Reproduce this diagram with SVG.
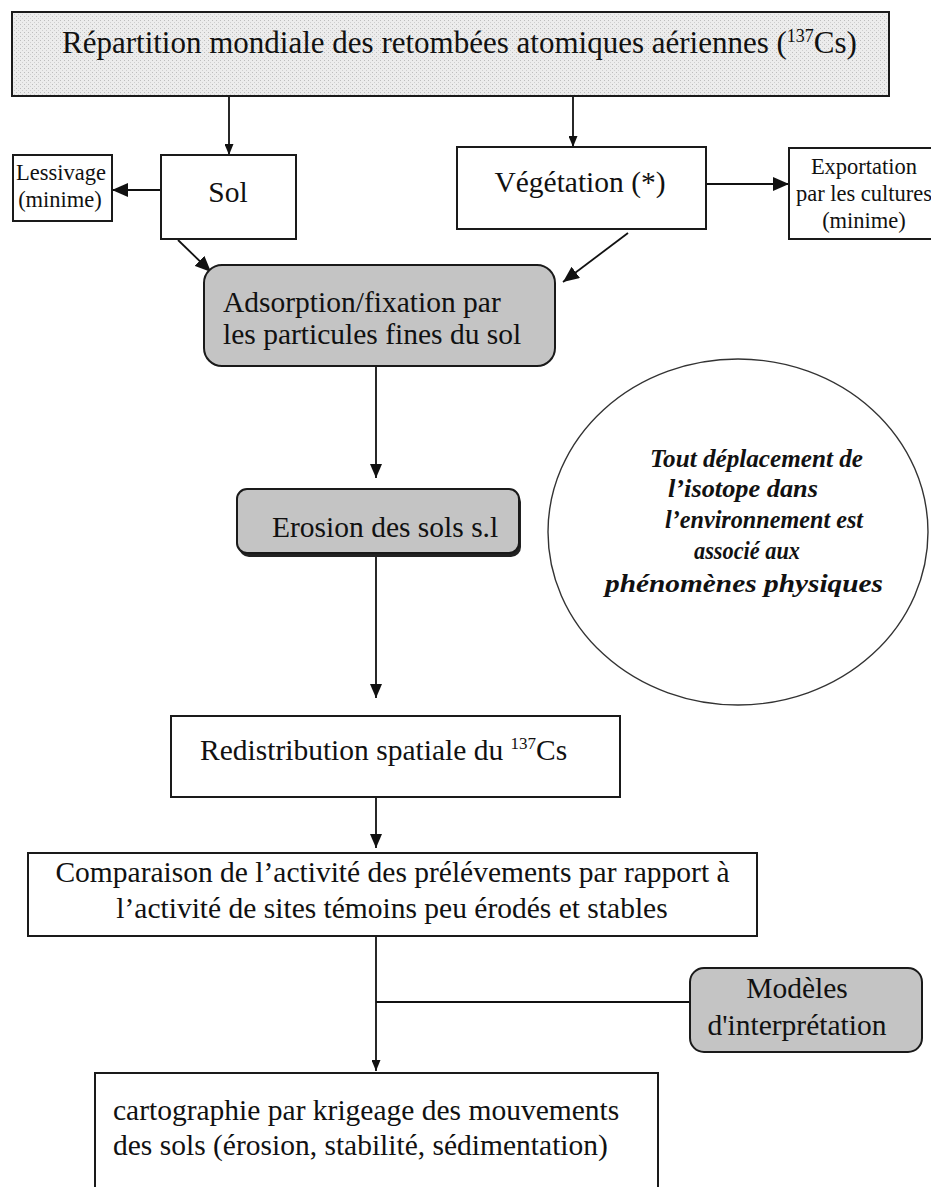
<svg xmlns="http://www.w3.org/2000/svg" width="931" height="1187" viewBox="0 0 931 1187">
<defs>
<style>
.box{fill:#ffffff;stroke:#1a1a1a;stroke-width:2}
.gray{fill:#c4c4c4;stroke:#1a1a1a;stroke-width:2}
.t{font-family:"Liberation Serif","Times New Roman",serif;fill:#111;font-size:29.5px}
.s{font-family:"Liberation Serif","Times New Roman",serif;fill:#111;font-size:22.5px}
.it{font-family:"Liberation Serif","Times New Roman",serif;fill:#111;font-size:26px;font-style:italic;font-weight:bold}
.ln{stroke:#111;stroke-width:1.8;fill:none}
</style>
<pattern id="dots" width="4" height="4" patternUnits="userSpaceOnUse">
<rect width="4" height="4" fill="#ececec"/>
<rect x="0" y="0" width="1" height="1" fill="#bdbdbd"/>
<rect x="2" y="2" width="1" height="1" fill="#cfcfcf"/>
</pattern>
<marker id="big" viewBox="0 0 16 14" markerWidth="16" markerHeight="14" refX="16" refY="7" orient="auto" markerUnits="userSpaceOnUse">
<path d="M0,0 L16,7 L0,14 z" fill="#111"/>
</marker>
<marker id="med" viewBox="0 0 14 12" markerWidth="14" markerHeight="12" refX="14" refY="6" orient="auto" markerUnits="userSpaceOnUse">
<path d="M0,0 L14,6 L0,12 z" fill="#111"/>
</marker>
<marker id="sm" viewBox="0 0 11 9" markerWidth="11" markerHeight="9" refX="11" refY="4.5" orient="auto" markerUnits="userSpaceOnUse">
<path d="M0,0 L11,4.5 L0,9 z" fill="#111"/>
</marker>
</defs>
<rect width="931" height="1187" fill="#ffffff"/>

<g id="connectors">
<line class="ln" x1="229" y1="96" x2="229" y2="155" marker-end="url(#sm)"/>
<line class="ln" x1="573" y1="96" x2="573" y2="147" marker-end="url(#sm)"/>
<line class="ln" x1="161" y1="190" x2="112" y2="190" marker-end="url(#big)"/>
<line class="ln" x1="706" y1="184" x2="789" y2="184" marker-end="url(#big)"/>
<line class="ln" x1="178" y1="240" x2="211" y2="272" marker-end="url(#big)"/>
<line class="ln" x1="628" y1="233" x2="563" y2="282" marker-end="url(#big)"/>
<line class="ln" x1="376" y1="366" x2="376" y2="478" marker-end="url(#med)"/>
<line class="ln" x1="376" y1="555" x2="376" y2="698" marker-end="url(#med)"/>
<line class="ln" x1="376" y1="797" x2="376" y2="848" marker-end="url(#med)"/>
<line class="ln" x1="376" y1="936" x2="376" y2="1071" marker-end="url(#sm)"/>
<line class="ln" x1="376" y1="1002" x2="690" y2="1002"/>
</g>

<g id="n-top">
<rect x="12" y="12" width="877" height="84" fill="url(#dots)" stroke="#1a1a1a" stroke-width="2"/>
<text class="t" x="62" y="53" style="font-size:31px">Répartition mondiale des retombées atomiques aériennes (<tspan style="font-size:18px" dy="-11">137</tspan><tspan dy="11">Cs)</tspan></text>
</g>

<g id="n-lessivage">
<rect class="box" x="13" y="155" width="99" height="66"/>
<text class="s" x="61" y="180" text-anchor="middle">Lessivage</text>
<text class="s" x="60" y="207" text-anchor="middle">(minime)</text>
</g>

<g id="n-sol">
<rect class="box" x="161" y="155" width="135" height="84"/>
<text class="t" x="228" y="202" text-anchor="middle">Sol</text>
</g>

<g id="n-vegetation">
<rect class="box" x="457" y="147" width="249" height="82"/>
<text class="t" x="580" y="192" text-anchor="middle">Végétation (*)</text>
</g>

<g id="n-exportation">
<rect class="box" x="789" y="148" width="152" height="91"/>
<text class="s" x="864" y="174" text-anchor="middle">Exportation</text>
<text class="s" x="864" y="201" text-anchor="middle">par les cultures</text>
<text class="s" x="864" y="228" text-anchor="middle">(minime)</text>
</g>

<g id="n-adsorption">
<rect class="gray" x="204" y="265" width="351" height="101" rx="18" ry="18"/>
<text class="t" x="223" y="312">Adsorption/fixation par</text>
<text class="t" x="223" y="344">les particules fines du sol</text>
</g>

<g id="n-erosion">
<rect x="239" y="492" width="282" height="65" rx="10" ry="10" fill="#222"/>
<rect class="gray" x="237" y="489" width="282" height="64" rx="10" ry="10"/>
<text class="t" x="272" y="537">Erosion des sols s.l</text>
</g>

<g id="n-note">
<ellipse cx="738" cy="532" rx="190" ry="173" fill="#ffffff" stroke="#333" stroke-width="1.4"/>
<text class="it" x="650" y="467" textLength="213" lengthAdjust="spacingAndGlyphs">Tout déplacement de</text>
<text class="it" x="668" y="497" textLength="150" lengthAdjust="spacingAndGlyphs">l’isotope dans</text>
<text class="it" x="665" y="528" textLength="198" lengthAdjust="spacingAndGlyphs">l’environnement est</text>
<text class="it" x="694" y="559" textLength="106" lengthAdjust="spacingAndGlyphs">associé aux</text>
<text class="it" x="605" y="592" textLength="278" lengthAdjust="spacingAndGlyphs">phénomènes physiques</text>
</g>

<g id="n-redistribution">
<rect class="box" x="171" y="716" width="449" height="81"/>
<text class="t" x="200" y="760">Redistribution spatiale du <tspan style="font-size:17px" dy="-11">137</tspan><tspan dy="11">Cs</tspan></text>
</g>

<g id="n-comparaison">
<rect class="box" x="28" y="853" width="729" height="83"/>
<text class="t" x="392.5" y="882" text-anchor="middle">Comparaison de l’activité des prélévements par rapport à</text>
<text class="t" x="392" y="918" text-anchor="middle">l’activité de sites témoins peu érodés et stables</text>
</g>

<g id="n-modeles">
<rect class="gray" x="690" y="968" width="232" height="84" rx="14" ry="14"/>
<text class="t" x="797" y="998" text-anchor="middle">Modèles</text>
<text class="t" x="797" y="1035" text-anchor="middle">d'interprétation</text>
</g>

<g id="n-cartographie">
<rect class="box" x="95" y="1073" width="563" height="130"/>
<text class="t" x="113" y="1120">cartographie par krigeage des mouvements</text>
<text class="t" x="113" y="1155">des sols (érosion, stabilité, sédimentation)</text>
</g>
</svg>
